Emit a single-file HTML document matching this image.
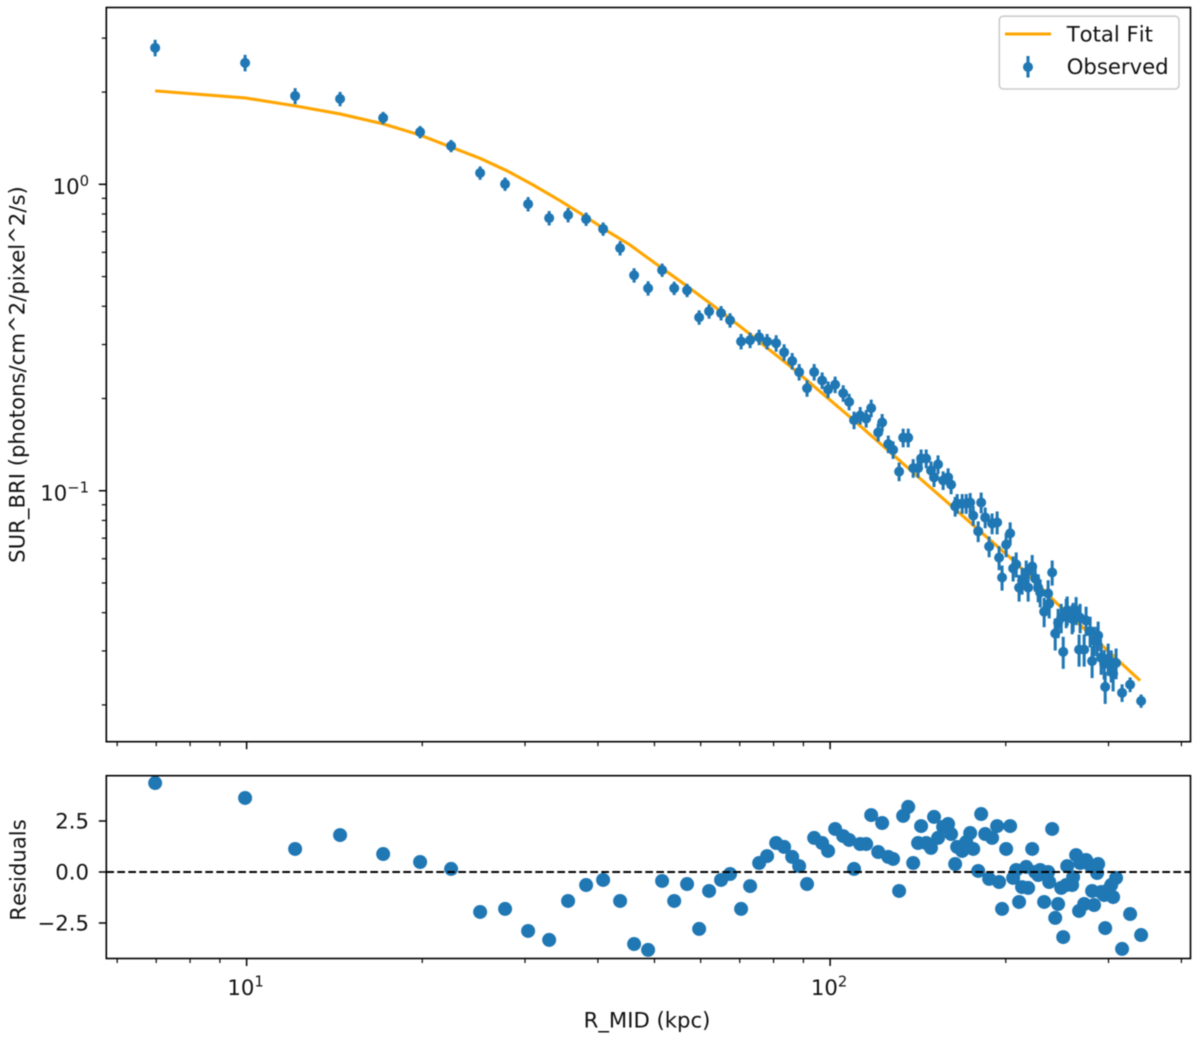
<!DOCTYPE html>
<html lang="en">
<head>
<meta charset="utf-8">
<title>Surface brightness profile with residuals</title>
<style>
html,body{margin:0;padding:0;background:#fff;}
svg{display:block;filter:blur(0.45px);}
text{font-family:"DejaVu Sans","Liberation Sans",sans-serif;font-size:21.2px;fill:#111;font-kerning:none;}
.sup{font-size:14.8px;}
</style>
</head>
<body>
<svg id="chart" width="1200" height="1038" viewBox="0 0 1200 1038" xmlns="http://www.w3.org/2000/svg">
  <rect x="0" y="0" width="1200" height="1038" fill="#fff"/>
  <g id="top-plot"></g>
  <g id="bottom-plot"></g>
  <rect x="106.3" y="7.5" width="1084.2" height="734.2" fill="none" stroke="#000" stroke-width="1.6"/>
  <rect x="106.3" y="775.7" width="1084.2" height="182.8" fill="none" stroke="#000" stroke-width="1.6"/>
  <text transform="translate(24.5 374.5) rotate(-90)" text-anchor="middle">SUR_BRI (photons/cm^2/pixel^2/s)</text>
  <text transform="translate(25.5 870) rotate(-90)" text-anchor="middle">Residuals</text>
  <text x="647" y="1027.5" text-anchor="middle">R_MID (kpc)</text>
  <g>
    <rect x="999.3" y="16.2" width="179.7" height="72.8" rx="4" ry="4" fill="#fff" fill-opacity="0.8" stroke="#ccc" stroke-width="1.6"/>
    <line x1="1005" y1="34" x2="1051" y2="34" stroke="#ffa500" stroke-width="3.1"/>
    <text x="1066.7" y="41.7">Total Fit</text>
    <line x1="1028" y1="56" x2="1028" y2="77.5" stroke="#1f77b4" stroke-width="3.1"/>
    <circle cx="1028" cy="67" r="5" fill="#1f77b4"/>
    <text x="1066.7" y="74">Observed</text>
  </g>
</svg>
<script>
const radiusKpc = [
6.97,9.94,12.11,14.46,17.14,19.83,22.41,25.13,27.73,30.37,
33.0,35.56,38.18,40.83,43.66,46.14,48.76,51.53,54.05,56.87,
59.64,62.03,65.03,67.38,70.38,72.93,75.57,77.99,80.82,83.4,
86.1,88.5,91.3,93.9,96.9,99.2,102.0,105.3,107.8,109.9,
112.6,115.3,117.6,120.9,122.8,125.8,128.2,131.3,133.4,136.1,
138.8,
141.5,143.2,146.1,148.9,150.7,153.1,156.2,159.3,161.2,163.8,
165.1,168.4,171.1,173.8,175.9,179.4,181.5,184.4,187.3,189.5,
193.3,194.8,197.1,200.3,203.5,205.9,208.4,210.8,213.3,216.8,
218.5,222.0,224.6,227.3,229.1,232.7,236.4,237.4,240.2,243.1,
245.9,248.9,250.9,253.9,254.9,259.9,260.9,264.0,267.1,268.2,
272.5,274.6,279.0,281.2,283.4,286.8,288.0,291.4,294.9,296.1,
299.6,303.2,305.5,309.1,316.5,326.7,341.2
];
const observedBrightness = [
2.789,2.491,1.943,1.900,1.647,1.481,1.334,1.089,1.002,.862,
.776,.794,.770,.715,.619,.505,.458,.525,.458,.451,
.368,.385,.380,.360,.307,.310,.317,.307,.303,.283,
.265,.244,.216,.244,.229,.214,.222,.208,.195,.170,
.176,.172,.186,.155,.167,.142,.136,.1155,.149,.149,
.1185,
.1185,.1274,.1274,.1165,.1106,.1219,.1081,.1106,.1047,.0889,
.0908,.0908,.0908,.0915,.0830,.0737,.0915,.0818,.0658,.0782,
.0788,.0605,.0521,.0667,.0726,.0558,.0575,.0483,.0509,.0541,
.0483,.0566,.0517,.0483,.0465,.0403,.0462,.0428,.0541,.0342,
.0371,.0385,.0298,.0400,.0407,.0382,.0388,.0407,.0303,.0385,
.0303,.0377,.0348,.0278,.0324,.0324,.0337,.0285,.0272,.0229,
.0283,.0269,.0253,.0274,.0219,.0233,.0206
];
const observedErrorPercent = [
6.2,6.2,6,5.4,4.6,4.6,4.6,5,5,5.4,
5.4,5.4,5,5,5.4,5.4,5.4,5,5,5,
5.4,5.4,5.4,5.4,5.8,5.8,5.8,5.8,6.2,6.2,
6.2,6.2,6.2,6.2,6.2,6.2,6.2,6.2,6.2,6.6,
6.6,6.6,6.6,6.6,6.6,6.6,6.6,7,7,7,
7,
7,7,7,7,7,7,7,7,7,7.4,
7.4,7.4,7.4,7.4,7.4,7.8,7.8,7.8,7.8,7.8,
8.6,9,9.4,9,8.6,9.4,9.4,10,10,9.4,
10,9,9.4,10.5,10.5,11,10.5,10.5,9.4,12,
11,11,12,11,11,11,11,10.5,12,11,
12,11,11.5,12,11,11,11,12,11,12,
12,12,12.5,11.5,6.6,5.5,5
];
const residualValues = [
4.36,3.63,1.13,1.81,.88,.49,.15,-1.96,-1.81,-2.89,
-3.33,-1.42,-.64,-.39,-1.42,-3.53,-3.82,-.44,-1.42,-.59,
-2.79,-.93,-.39,-.10,-1.81,-.69,.44,.78,1.42,1.23,
.74,.29,-.59,1.67,1.42,1.03,2.11,1.76,1.57,.15,
1.37,1.37,2.79,.98,2.40,.74,.64,-.93,2.75,3.19,
.44,
1.42,2.25,1.42,1.18,2.70,1.67,2.21,2.35,1.86,.39,
1.23,1.03,1.47,1.91,1.13,.05,2.84,1.86,-.34,1.67,
2.25,-.49,-1.81,1.13,2.25,-.29,.10,-1.47,-.74,.25,
-.78,1.13,0,-.15,.10,-1.47,0,-.49,2.11,-2.25,
-1.57,-.78,-3.19,-.64,.29,-.64,-.25,.83,-1.91,.44,
-1.57,.59,.34,-.93,-1.62,-.05,.39,-.98,-1.13,-2.75,
-.88,-.64,-1.23,-.29,-3.77,-2.06,-3.09
];
const fitRadiusKpc = [
6.97,9.94,12.11,14.46,17.14,19.83,22.91,25.12,27.91,30.99,34.45,38.27,41.41,45.4,51.1,
56.8,63.9,72.0,85.8,91.3,108.2,128.2,138.8,162.5,185.8,203.5,220.2,245.0,257.9,290.2,339.8
];
const fitBrightness = [
2.018,1.914,1.803,1.697,1.575,1.448,1.301,1.216,1.108,.995,.884,.780,.706,.634,.538,
.466,.394,.3304,.253,.229,.174,.131,.1147,.0882,.0704,.0605,.0525,.0428,.0391,.0317,.0240
];
const xMajorTicks = [10,100];
const xMajorExponents = ['1','2'];
const xMinorTicks = [6,7,8,9,20,30,40,50,60,70,80,90,200,300,400];
const yMajorTicks = [1,0.1];
const yMajorExponents = ['0','\u22121'];
const yMinorTicks = [3,2,.9,.8,.7,.6,.5,.4,.3,.2,.09,.08,.07,.06,.05,.04,.03,.02];
const residualTicks = [2.5,0,-2.5];
const residualTickLabels = ['2.5','0.0','\u22122.5'];

const X_MIN = 5.748, X_MAX = 414.6;
const Y_MIN = 0.01517, Y_MAX = 3.776;
const RES_MIN = -4.24, RES_MAX = 4.72;
const AX_LEFT = 106.3, AX_RIGHT = 1190.5;
const TOP_TOP = 7.5, TOP_BOTTOM = 741.7;
const RES_TOP = 775.7, RES_BOTTOM = 958.5;

function xScale(r){
  return AX_LEFT + (Math.log10(r) - Math.log10(X_MIN)) / (Math.log10(X_MAX) - Math.log10(X_MIN)) * (AX_RIGHT - AX_LEFT);
}
function yScale(v){
  return TOP_BOTTOM - (Math.log10(v) - Math.log10(Y_MIN)) / (Math.log10(Y_MAX) - Math.log10(Y_MIN)) * (TOP_BOTTOM - TOP_TOP);
}
function resScale(v){
  return RES_BOTTOM - (v - RES_MIN) / (RES_MAX - RES_MIN) * (RES_BOTTOM - RES_TOP);
}

const NS = 'http://www.w3.org/2000/svg';
const topPlot = document.getElementById('top-plot');
const bottomPlot = document.getElementById('bottom-plot');

function make(tag, parent, props){
  const el = document.createElementNS(NS, tag);
  for (const k in props) el.setAttribute(k, props[k]);
  parent.appendChild(el);
  return el;
}

/* x ticks on both panels */
[TOP_BOTTOM, RES_BOTTOM].forEach(function(base, panel){
  const parent = panel === 0 ? topPlot : bottomPlot;
  xMajorTicks.forEach(function(t){
    const tick = make('line', parent, {x1:xScale(t), x2:xScale(t), y1:base, y2:base+7.5, stroke:'#000', 'stroke-width':1.5});
    
    
  });
  xMinorTicks.forEach(function(t){
    const tick = make('line', parent, {x1:xScale(t), x2:xScale(t), y1:base, y2:base+4.5, stroke:'#000', 'stroke-width':1.2});
    
    
  });
});

/* x tick labels */
xMajorTicks.forEach(function(t, i){
  const label = make('text', bottomPlot, {x:xScale(t)-1, y:995, 'text-anchor':'middle'});
  
  
  label.appendChild(document.createTextNode('10'));
  const sup = make('tspan', label, {class:'sup', dy:-8.3});
  sup.textContent = xMajorExponents[i];
});

/* y ticks, top panel */
yMajorTicks.forEach(function(t, i){
  const tick = make('line', topPlot, {x1:AX_LEFT-7.5, x2:AX_LEFT, y1:yScale(t), y2:yScale(t), stroke:'#000', 'stroke-width':1.5});
  
  
  const label = make('text', topPlot, {x:89, y:yScale(t)+9.6, 'text-anchor':'end'});
  
  
  label.appendChild(document.createTextNode('10'));
  const sup = make('tspan', label, {class:'sup', dy:-8});
  sup.textContent = yMajorExponents[i];
});
yMinorTicks.forEach(function(t){
  const tick = make('line', topPlot, {x1:AX_LEFT-4.5, x2:AX_LEFT, y1:yScale(t), y2:yScale(t), stroke:'#000', 'stroke-width':1.2});
  
  
});

/* y ticks, residual panel */
residualTicks.forEach(function(t, i){
  const tick = make('line', bottomPlot, {x1:AX_LEFT-7.5, x2:AX_LEFT, y1:resScale(t), y2:resScale(t), stroke:'#000', 'stroke-width':1.5});
  
  
  const label = make('text', bottomPlot, {x:89, y:resScale(t)+7.4, 'text-anchor':'end'});
  
  
  label.textContent = residualTickLabels[i];
});

/* total fit line */
const fitPath = fitRadiusKpc.map(function(r, i){
  return (i ? 'L' : 'M') + xScale(r).toFixed(2) + ' ' + yScale(fitBrightness[i]).toFixed(2);
}).join(' ');
const fitLine = make('path', topPlot, {d:fitPath, fill:'none', stroke:'#ffa500', 'stroke-width':3.1, 'stroke-linejoin':'round'});



/* observed points with error bars */
radiusKpc.forEach(function(r, i){
  const v = observedBrightness[i];
  const e = v * observedErrorPercent[i] / 100;
  const px = xScale(r);
  const bar = make('line', topPlot, {x1:px, x2:px, y1:yScale(v+e), y2:yScale(v-e), stroke:'#1f77b4', 'stroke-width':3});
  
  
  const dot = make('circle', topPlot, {cx:px, cy:yScale(v), r:5, fill:'#1f77b4'});
  
  
});

/* residual points */
radiusKpc.forEach(function(r, i){
  const dot = make('circle', bottomPlot, {cx:xScale(r), cy:resScale(residualValues[i]), r:7, fill:'#1f77b4'});
  
  
});

/* zero reference line */
const zeroLine = make('line', bottomPlot, {x1:AX_LEFT, x2:AX_RIGHT, y1:resScale(0), y2:resScale(0), stroke:'#000', 'stroke-width':2.1, 'stroke-dasharray':'7.7 3.3'});


</script>
</body>
</html>
